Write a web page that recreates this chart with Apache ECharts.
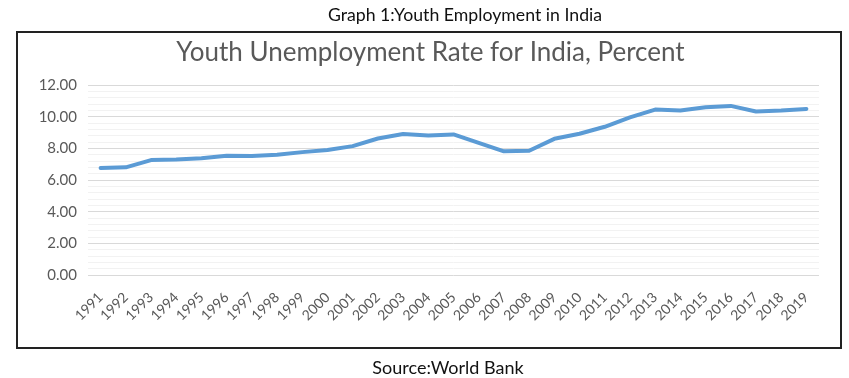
<!DOCTYPE html>
<html>
<head>
<meta charset="utf-8">
<script src="https://cdn.jsdelivr.net/npm/echarts@6/dist/echarts.min.js"></script>
<style>
html,body{margin:0;padding:0;background:#fff;}
#chart{width:849px;height:378px;}
</style>
</head>
<body>
<div id="chart"></div>
<script>
const years = ['1991','1992','1993','1994','1995','1996','1997','1998','1999','2000','2001','2002','2003','2004','2005','2006','2007','2008','2009','2010','2011','2012','2013','2014','2015','2016','2017','2018','2019'];
const youthUnemployment = [6.76,6.80,7.26,7.30,7.38,7.53,7.51,7.60,7.76,7.89,8.14,8.62,8.90,8.81,8.88,8.35,7.81,7.85,8.60,8.92,9.36,9.95,10.45,10.39,10.60,10.68,10.33,10.39,10.49];
const yTicks = {min: 0, max: 12, interval: 2};
const headerText = 'Graph 1:Youth Employment in India';
const chartTitle = 'Youth Unemployment Rate for India, Percent';
const sourceText = 'Source:World Bank';

const chart = echarts.init(document.getElementById('chart'));
chart.setOption({
  backgroundColor: '#ffffff',
  animation: false,
  title: [
    {text: headerText, left: 460, top: 1, textAlign: 'center',
     textStyle: {fontFamily: 'Lato', fontSize: 17.7, fontWeight: 'normal', color: '#111'}},
    {text: chartTitle, left: 425.5, top: 35, textAlign: 'center',
     textStyle: {fontFamily: 'Lato', fontSize: 26, fontWeight: 'normal', color: '#595959'}},
    {text: sourceText, left: 443, top: 354, textAlign: 'center',
     textStyle: {fontFamily: 'Lato', fontSize: 18, fontWeight: 'normal', color: '#111'}}
  ],
  graphic: [{
    type: 'rect', left: 16, top: 31, z: -1,
    shape: {width: 824, height: 316},
    style: {fill: '#fff', stroke: '#222', lineWidth: 2}
  }],
  grid: {left: 88, right: 30, top: 85, bottom: 103, containLabel: false},
  xAxis: {
    type: 'category', data: years, boundaryGap: true,
    axisLine: {show: false}, axisTick: {show: false},
    axisLabel: {rotate: 45, interval: 0, color: '#595959', fontFamily: 'Lato', fontSize: 14, margin: 20}
  },
  yAxis: {
    type: 'value', min: yTicks.min, max: yTicks.max, interval: yTicks.interval,
    axisLine: {show: false}, axisTick: {show: false},
    axisLabel: {color: '#595959', fontFamily: 'Lato', fontSize: 15, margin: 11,
      formatter: v => v.toFixed(2)},
    splitLine: {lineStyle: {color: '#d9d9d9', width: 1}},
    minorTick: {show: false, splitNumber: 5},
    minorSplitLine: {show: true, lineStyle: {color: '#f2f2f2', width: 1}}
  },
  series: [{
    type: 'line', data: youthUnemployment, showSymbol: false, smooth: false,
    lineStyle: {color: '#5B9BD5', width: 4, join: 'round', cap: 'round'},
    itemStyle: {color: '#5B9BD5'}
  }]
});
</script>
</body>
</html>
